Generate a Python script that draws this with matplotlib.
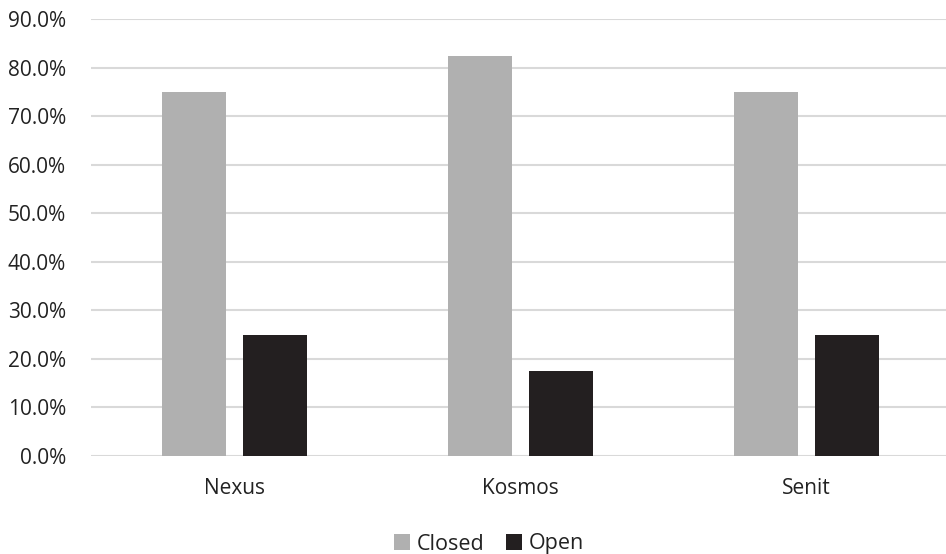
import numpy as np
import matplotlib
matplotlib.use('Agg')
import matplotlib.pyplot as plt
from matplotlib.ticker import PercentFormatter

categories = ["Nexus", "Kosmos", "Senit"]
closed = [0.750, 0.824, 0.750]
open_ = [0.250, 0.176, 0.250]
series_names = ["Closed", "Open"]

plt.rcParams['font.family'] = ['Open Sans', 'DejaVu Sans']

fig = plt.figure(figsize=(9.46, 5.54), dpi=100)
ax = fig.add_axes([91 / 946, 98 / 554, 855 / 946, 437 / 554])

x = np.arange(len(categories))
w = 0.224
off = 0.1416
ax.bar(x - off, closed, width=w, color='#B0B0B0', label=series_names[0], zorder=2)
ax.bar(x + off, open_, width=w, color='#231F20', label=series_names[1], zorder=2)

ax.set_xlim(-0.502, 2.488)
ax.set_ylim(0, 0.9)
ax.set_yticks(np.arange(0, 0.91, 0.1))
ax.yaxis.set_major_formatter(PercentFormatter(1.0, decimals=1))
ax.set_xticks(x)
ax.set_xticklabels(categories)
ax.grid(axis='y', color='#D9D9D9', linewidth=1.5, zorder=0)
ax.tick_params(axis='both', length=0, labelsize=15, colors='#222222')
ax.tick_params(axis='x', pad=16)
ax.tick_params(axis='y', pad=18)
for s in ax.spines.values():
    s.set_visible(False)

fig.legend(loc='center', bbox_to_anchor=(489 / 946, 10 / 554), ncol=2, frameon=False,
           fontsize=15.5, handlelength=0.75, handleheight=0.75, handletextpad=0.3,
           columnspacing=1.0, labelcolor='#222222')

fig.savefig('out.png', dpi=100)
